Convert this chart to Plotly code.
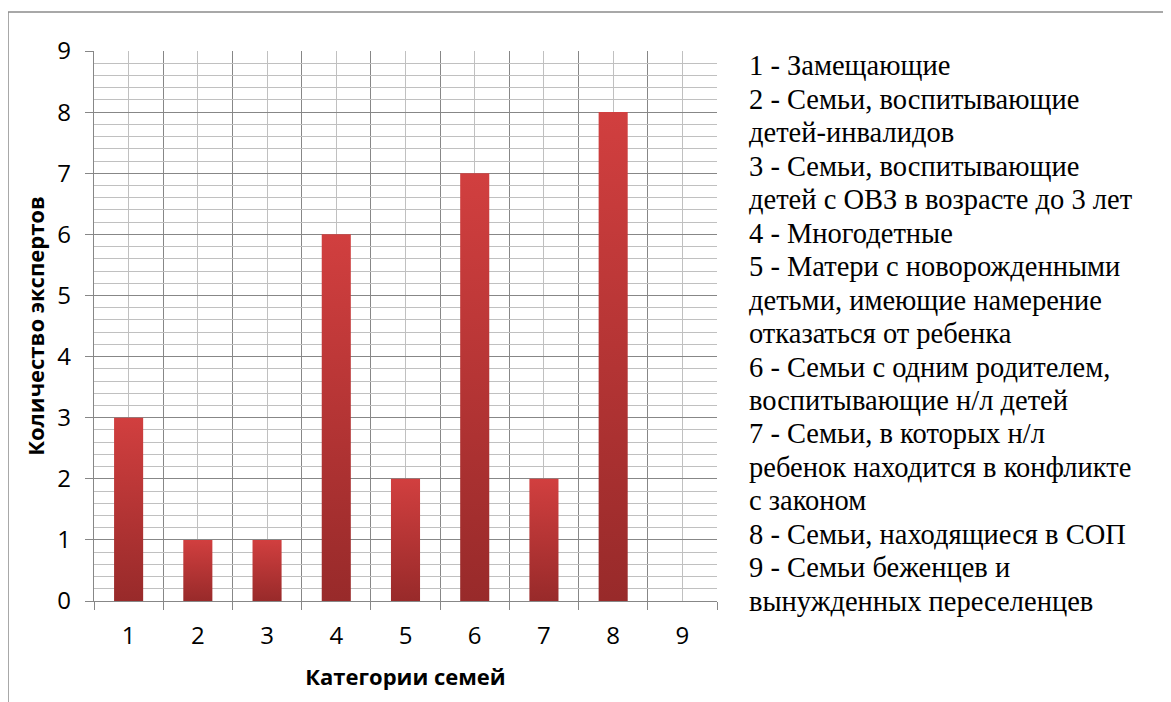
import plotly.graph_objects as go

categories = [1, 2, 3, 4, 5, 6, 7, 8, 9]
values = [3, 1, 1, 6, 2, 7, 2, 8, 0]
tick_labels = ["1", "2", "3", "4", "5", "6", "7", "8", "9"]
legend_lines = [
    "1 - Замещающие",
    "2 - Семьи, воспитывающие",
    "детей-инвалидов",
    "3 - Семьи, воспитывающие",
    "детей с ОВЗ в возрасте до 3 лет",
    "4 - Многодетные",
    "5 - Матери с новорожденными",
    "детьми, имеющие намерение",
    "отказаться от ребенка",
    "6 - Семьи с одним родителем,",
    "воспитывающие н/л детей",
    "7 - Семьи, в которых н/л",
    "ребенок находится в конфликте",
    "с законом",
    "8 - Семьи, находящиеся в СОП",
    "9 - Семьи беженцев и",
    "вынужденных переселенцев",
]

OFF = 8  # page body margin
W, H = 1171, 702
L, R, T, B = 94 - OFF, 717 - OFF, 51 - OFF, 601 - OFF
pw, ph = R - L, B - T

def px_x(x):
    return (x - OFF - L) / pw

def px_y(y):
    return (B - (y - OFF)) / ph

BAR_W = 0.42
fig = go.Figure()
for c, v in zip(categories, values):
    if v <= 0:
        continue
    fig.add_trace(go.Scatter(
        x=[c - BAR_W / 2, c + BAR_W / 2], y=[v, v],
        mode="lines", line=dict(width=0, color="#b33333"),
        fill="tozeroy",
        fillgradient=dict(type="vertical",
                          colorscale=[[0, "#982a2a"], [1, "#d13f3f"]]),
        showlegend=False, hoverinfo="skip",
    ))

DARK = "#878787"
LIGHT = "#c0c0c0"
SANS = "Open Sans"
SERIF = "Liberation Serif"
TICKFONT = dict(family=SANS, size=24, color="black")

fig.update_layout(
    width=W, height=H,
    font=dict(family=SERIF, size=24, color="black"),
    margin=dict(l=L, r=W - R, t=T, b=H - B, pad=0),
    paper_bgcolor="white", plot_bgcolor="white",
    showlegend=False,
    xaxis=dict(
        range=[0.5, 9.5], tickmode="array", tickvals=categories, ticktext=tick_labels,
        ticks="", showgrid=True, gridcolor=LIGHT, gridwidth=1.3,
        tickfont=TICKFONT, ticklabelstandoff=13,
        zeroline=False, showline=True, linecolor=DARK, linewidth=1.3, mirror=False,
        minor=dict(tickmode="array", tickvals=[c - 0.5 for c in categories] + [9.5],
                   ticks="outside", ticklen=8, tickcolor=DARK, tickwidth=1.3,
                   showgrid=True, gridcolor=DARK, gridwidth=1.3),
        title=dict(text="<b>Категории семей</b>",
                   font=dict(family=SANS, size=22, color="black"),
                   standoff=19),
        fixedrange=True,
    ),
    yaxis=dict(
        range=[0, 9], tickmode="linear", tick0=0, dtick=1,
        ticks="outside", ticklen=8, tickcolor=DARK, tickwidth=1.3,
        showgrid=True, gridcolor=DARK, gridwidth=1.3,
        tickfont=TICKFONT, ticklabelstandoff=9,
        zeroline=False, showline=True, linecolor=DARK, linewidth=1.3,
        minor=dict(dtick=0.2, tick0=0, showgrid=True, gridcolor=LIGHT, gridwidth=1.3, ticks=""),
        title=dict(text="<b>Количество экспертов</b>",
                   font=dict(family=SANS, size=22, color="black"),
                   standoff=6),
        fixedrange=True,
    ),
)

# outer chart border
fig.add_shape(type="rect", xref="paper", yref="paper",
              x0=px_x(8), x1=px_x(1300), y0=px_y(800), y1=px_y(12),
              line=dict(color="#8c8c8c", width=1.5), fillcolor="rgba(0,0,0,0)", layer="below")

# text legend on the right
y0, dy = 66, 33.45
for i, line in enumerate(legend_lines):
    fig.add_annotation(
        text=line, xref="paper", yref="paper",
        x=px_x(747), y=px_y(y0 + i * dy), xanchor="left", yanchor="middle",
        showarrow=False,
        font=dict(family=SERIF, size=28.5),
    )

fig.write_html("out.html")
